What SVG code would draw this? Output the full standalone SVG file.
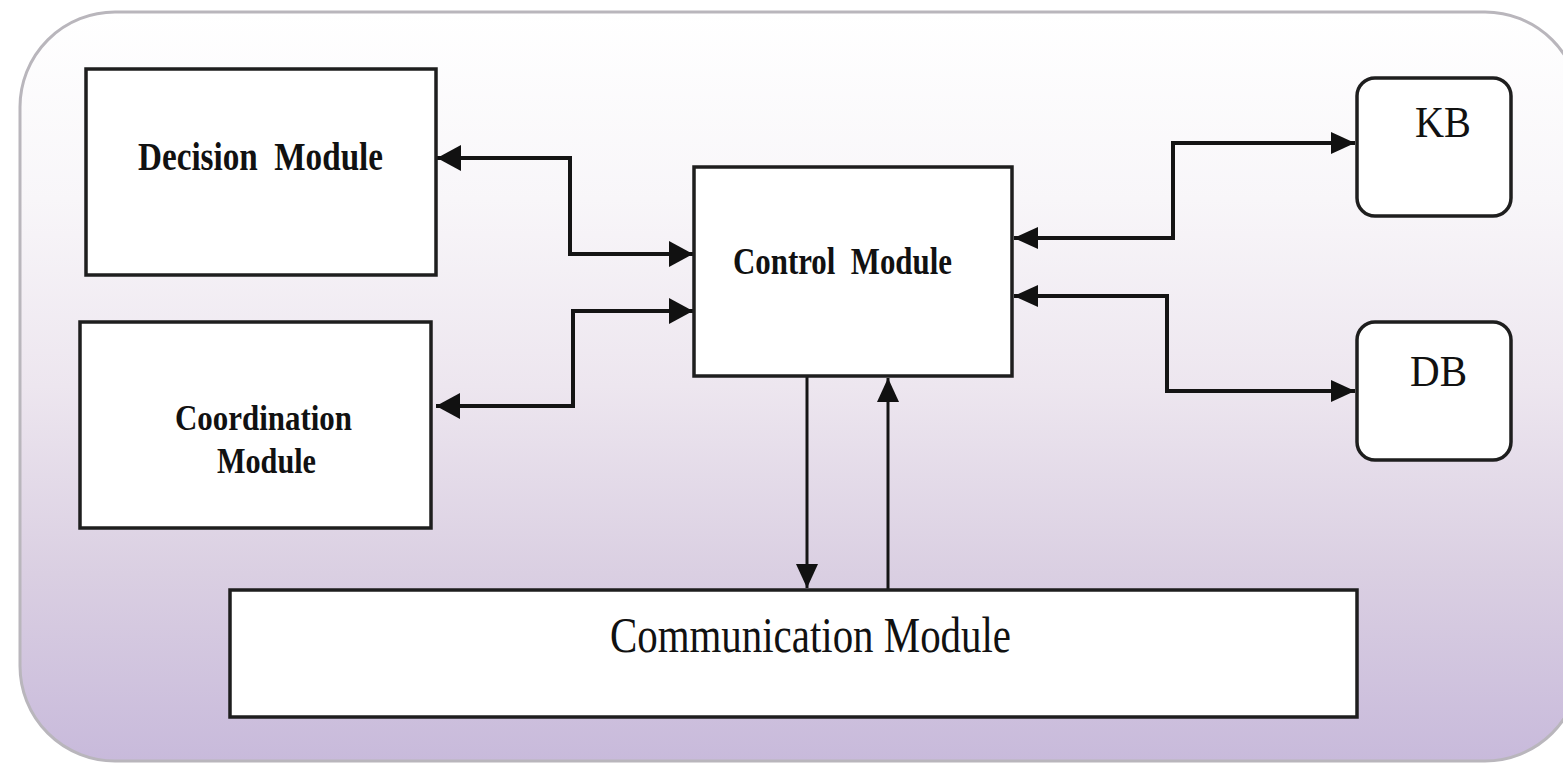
<svg xmlns="http://www.w3.org/2000/svg" width="1563" height="769" viewBox="0 0 1563 769">
<style>
.box{fill:#ffffff;stroke:#1e1e1e;stroke-width:3.5}
.conn{fill:none;stroke:#141414;stroke-width:4}
.vconn{fill:none;stroke:#141414;stroke-width:3}
.lb{font-family:"Liberation Serif","Times New Roman",serif;font-weight:bold;fill:#111}
.lr{font-family:"Liberation Serif","Times New Roman",serif;fill:#111}
</style>
<defs>
<linearGradient id="bg" x1="0" y1="0" x2="0" y2="1">
<stop offset="0" stop-color="#ffffff"/>
<stop offset="0.25" stop-color="#f8f6f9"/>
<stop offset="0.5" stop-color="#ede6ef"/>
<stop offset="0.75" stop-color="#dacfe2"/>
<stop offset="1" stop-color="#c8badb"/>
</linearGradient>
<marker id="ah" markerUnits="userSpaceOnUse" markerWidth="24" markerHeight="26" refX="24" refY="13" orient="auto-start-reverse" viewBox="0 0 24 26">
<path d="M0,0 L24,13 L0,26 z" fill="#111"/>
</marker>
<marker id="ahs" markerUnits="userSpaceOnUse" markerWidth="24" markerHeight="22" refX="24" refY="11" orient="auto-start-reverse" viewBox="0 0 24 22">
<path d="M0,0 L24,11 L0,22 z" fill="#111"/>
</marker>
</defs>
<rect x="0" y="0" width="1563" height="769" fill="#ffffff"/>
<g id="frame">
<rect x="20" y="12" width="1560" height="749" rx="95" ry="95" fill="url(#bg)" stroke="#b9b6bc" stroke-width="3"/>
</g>
<g id="connectors">
<path class="conn" d="M437,158 H570 V254 H693" marker-start="url(#ah)" marker-end="url(#ah)"/>
<path class="conn" d="M436,406 H573 V311 H693" marker-start="url(#ah)" marker-end="url(#ah)"/>
<path class="conn" d="M1014,238 H1173 V143 H1355" marker-start="url(#ahs)" marker-end="url(#ahs)"/>
<path class="conn" d="M1014,296 H1167 V391 H1355" marker-start="url(#ahs)" marker-end="url(#ahs)"/>
<path class="vconn" d="M807,377 V588" marker-end="url(#ahs)"/>
<path class="vconn" d="M888,589 V378" marker-end="url(#ahs)"/>
</g>
<g id="decision">
<rect class="box" x="86" y="69" width="350" height="206"/>
<text class="lb" x="138" y="170" font-size="40" textLength="245" lengthAdjust="spacingAndGlyphs" xml:space="preserve">Decision  Module</text>
</g>
<g id="coordination">
<rect class="box" x="80" y="322" width="351" height="206"/>
<text class="lb" x="175" y="430" font-size="35" textLength="177" lengthAdjust="spacingAndGlyphs">Coordination</text>
<text class="lb" x="217" y="473" font-size="35" textLength="99" lengthAdjust="spacingAndGlyphs">Module</text>
</g>
<g id="control">
<rect class="box" x="694" y="167" width="318" height="209"/>
<text class="lb" x="733" y="274" font-size="38" textLength="219" lengthAdjust="spacingAndGlyphs" xml:space="preserve">Control  Module</text>
</g>
<g id="kb">
<rect class="box" x="1357" y="78" width="154" height="138" rx="18" ry="18"/>
<text class="lr" x="1415" y="137" font-size="45" textLength="56" lengthAdjust="spacingAndGlyphs">KB</text>
</g>
<g id="db">
<rect class="box" x="1357" y="322" width="154" height="138" rx="18" ry="18"/>
<text class="lr" x="1410" y="386" font-size="45" textLength="57" lengthAdjust="spacingAndGlyphs">DB</text>
</g>
<g id="communication">
<rect class="box" x="230" y="590" width="1127" height="127"/>
<text class="lr" x="610" y="652" font-size="50" textLength="401" lengthAdjust="spacingAndGlyphs">Communication Module</text>
</g>
</svg>
